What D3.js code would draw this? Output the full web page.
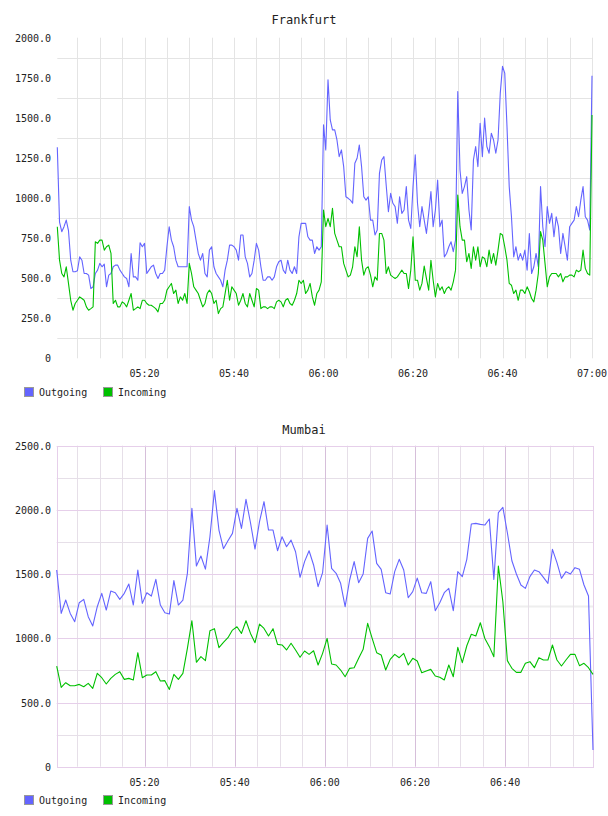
<!DOCTYPE html>
<html>
<head>
<meta charset="utf-8">
<script src="https://cdn.jsdelivr.net/npm/d3@7"></script>
<style>
  body { margin: 0; background: #fff; }
  svg text { font-family: "DejaVu Sans Mono", monospace; fill: #222; }
</style>
</head>
<body>
<svg id="chart" width="608" height="816"></svg>
<script>
// both series start at 05:00:30; Frankfurt is sampled every 30 s, Mumbai every minute
const seriesStart = new Date(2000, 0, 1, 5, 0, 30);
const frankfurtStepMs = 30 * 1000;
const mumbaiStepMs = 60 * 1000;

const seriesNames = ['Outgoing', 'Incoming'];
const seriesColors = ['#6464ff', '#00c000'];

const frankfurtOut = [
  1317, 850, 790, 821, 862, 796, 612, 540, 540, 546,
  633, 612, 529, 529, 519, 435, 446, 529, 550, 592,
  571, 587, 446, 519, 529, 571, 581, 581, 550, 529,
  508, 498, 446, 654, 508, 508, 487, 721, 696, 717,
  529, 550, 571, 581, 529, 498, 529, 529, 550, 696,
  821, 737, 696, 612, 571, 571, 571, 571, 571, 946,
  862, 821, 737, 654, 612, 654, 529, 508, 675, 696,
  571, 529, 508, 487, 446, 550, 612, 706, 706, 696,
  675, 612, 769, 769, 633, 592, 508, 529, 612, 717,
  675, 571, 487, 487, 508, 508, 487, 508, 571, 602,
  612, 550, 529, 612, 550, 529, 571, 529, 758, 842,
  842, 842, 758, 737, 737, 654, 696, 675, 696, 1456,
  1300, 1737, 1487, 1425, 1425, 1362, 1258, 1300, 1196, 1008,
  998, 987, 967, 1217, 1248, 1331, 1196, 1008, 987, 1008,
  862, 862, 769, 800, 1154, 1237, 1258, 1081, 914, 1029,
  967, 946, 842, 1008, 904, 925, 1071, 862, 810, 1071,
  1269, 967, 821, 946, 862, 779, 904, 1040, 821, 925,
  1112, 821, 862, 633, 654, 696, 727, 665, 737, 1664,
  1175, 1029, 1071, 1133, 925, 800, 1237, 1321, 1196, 1466,
  1258, 1498, 1321, 1279, 1404, 1362, 1279, 1362, 1654, 1821,
  1779, 1446, 1071, 883, 633, 696, 612, 654, 612, 675,
  550, 779, 529, 571, 654, 571, 1071, 821, 696, 946,
  842, 904, 758, 883, 821, 654, 779, 696, 612, 821,
  842, 862, 946, 883, 987, 1071, 883, 862, 800, 1763
];
const frankfurtIn = [
  821, 612, 529, 508, 571, 467, 362, 300, 342, 362,
  383, 373, 362, 321, 300, 310, 321, 727, 717, 737,
  737, 675, 696, 706, 654, 342, 362, 321, 321, 352,
  342, 321, 362, 404, 300, 310, 321, 310, 362, 362,
  342, 331, 331, 321, 310, 290, 342, 342, 362, 425,
  446, 467, 404, 425, 342, 383, 362, 404, 342, 592,
  529, 446, 425, 404, 362, 321, 342, 404, 425, 404,
  342, 362, 279, 310, 321, 404, 487, 362, 446, 425,
  404, 331, 362, 404, 342, 321, 404, 362, 321, 435,
  425, 310, 321, 321, 310, 321, 321, 310, 352, 362,
  352, 321, 362, 373, 342, 331, 362, 404, 487, 467,
  487, 404, 425, 467, 383, 331, 404, 425, 477, 925,
  821, 873, 821, 935, 779, 737, 696, 696, 592, 550,
  508, 519, 571, 696, 633, 821, 612, 519, 561, 571,
  519, 446, 508, 487, 779, 779, 737, 529, 571, 519,
  508, 498, 508, 529, 550, 529, 529, 435, 550, 758,
  487, 487, 425, 467, 575, 498, 425, 612, 487, 383,
  467, 425, 446, 404, 435, 446, 425, 477, 550, 1019,
  821, 737, 737, 602, 654, 561, 696, 612, 696, 571,
  633, 623, 571, 675, 592, 654, 581, 675, 779, 769,
  696, 612, 467, 456, 404, 425, 362, 425, 425, 404,
  446, 415, 373, 352, 425, 529, 790, 737, 592, 446,
  508, 529, 529, 529, 508, 529, 477, 508, 508, 519,
  519, 508, 550, 540, 550, 675, 561, 529, 519, 1518
];

const mumbaiOut = [
  1532, 1194, 1298, 1194, 1129, 1277, 1303, 1168, 1096, 1246,
  1350, 1220, 1368, 1355, 1303, 1350, 1423, 1259, 1532, 1272,
  1355, 1329, 1459, 1259, 1199, 1189, 1449, 1259, 1298, 1506,
  2012, 1563, 1641, 1539, 1791, 2150, 1843, 1698, 1760, 1817,
  2012, 1856, 2082, 1900, 1695, 1908, 2064, 1843, 1843, 1682,
  1791, 1713, 1765, 1674, 1475, 1597, 1682, 1571, 1402, 1511,
  1882, 1545, 1506, 1428, 1246, 1454, 1597, 1433, 1501, 1778,
  1835, 1584, 1537, 1355, 1345, 1519, 1615, 1532, 1316, 1363,
  1469, 1355, 1350, 1441, 1215, 1277, 1355, 1389, 1215, 1519,
  1480, 1615, 1890, 1895, 1887, 1882, 1929, 1459, 1978, 2020,
  1822, 1604, 1501, 1415, 1389, 1480, 1532, 1519, 1475, 1428,
  1693, 1589, 1467, 1519, 1501, 1550, 1537, 1415, 1329, 130
];
const mumbaiIn = [
  784, 618, 654, 631, 631, 641, 623, 649, 610, 727,
  693, 644, 688, 719, 740, 680, 688, 675, 888, 693,
  714, 714, 740, 667, 670, 602, 719, 680, 727, 922,
  1137, 813, 857, 826, 1059, 1075, 927, 968, 1005, 1064,
  1090, 1038, 1137, 1038, 966, 1111, 1077, 1018, 1075, 953,
  948, 909, 961, 909, 852, 901, 875, 903, 792, 883,
  999, 800, 792, 753, 701, 766, 771, 844, 914, 1116,
  999, 888, 870, 753, 836, 875, 849, 883, 792, 844,
  823, 732, 745, 758, 706, 696, 675, 792, 701, 929,
  810, 942, 1031, 1018, 1121, 999, 935, 857, 1563, 1285,
  826, 766, 735, 735, 805, 818, 771, 849, 831, 831,
  948, 831, 784, 831, 875, 875, 787, 805, 771, 719
];

const frankfurtTicks = [0, 250, 500, 750, 1000, 1250, 1500, 1750, 2000];
const mumbaiTicks = [0, 500, 1000, 1500, 2000, 2500];

const svg = d3.select('#chart');
const fmtTick = d => d === 0 ? '0' : d3.format('.1f')(d);

const drawChart = (cfg) => {
  const g = svg.append('g');

  const x = d3.scaleTime()
    .domain([seriesStart, cfg.end])
    .range([cfg.left, cfg.right]);
  const y = d3.scaleLinear()
    .domain([0, d3.max(cfg.ticks)])
    .range([cfg.bottom, cfg.top]);

  const step = cfg.ticks[1] - cfg.ticks[0];
  const fives = d3.timeMinute.every(5).range(seriesStart, cfg.end);
  const twenties = x.ticks(d3.timeMinute.every(20));
  const minors = cfg.ticks.slice(1).map(t => t - step / 2);
  const px = v => Math.round(v) + 0.5;

  if (cfg.purple) {
    // minor lines between labelled values, major lines on them
    g.selectAll('.hminor').data(minors).enter().append('line')
      .attr('x1', cfg.left).attr('x2', cfg.right)
      .attr('y1', d => px(y(d))).attr('y2', d => px(y(d)))
      .attr('stroke', d => d === 1250 ? '#eeeeee' : '#e6dfe8')
      .attr('stroke-width', d => d === 1250 ? 2 : 1);
    g.selectAll('.vminor').data(fives.filter(d => d.getMinutes() % 20 !== 0)).enter().append('line')
      .attr('x1', d => px(x(d))).attr('x2', d => px(x(d)))
      .attr('y1', cfg.top).attr('y2', cfg.bottom)
      .attr('stroke', '#e6dfe8');
    g.selectAll('.hmajor').data(cfg.ticks.slice(1)).enter().append('line')
      .attr('x1', cfg.left).attr('x2', cfg.right)
      .attr('y1', d => px(y(d))).attr('y2', d => px(y(d)))
      .attr('stroke', '#e6cfea');
    g.selectAll('.vmajor').data(twenties).enter().append('line')
      .attr('x1', d => px(x(d))).attr('x2', d => px(x(d)))
      .attr('y1', cfg.top).attr('y2', cfg.bottom)
      .attr('stroke', '#d6bfda');
    g.append('rect')
      .attr('x', px(cfg.left)).attr('y', px(cfg.top))
      .attr('width', Math.round(cfg.right - cfg.left)).attr('height', Math.round(cfg.bottom - cfg.top))
      .attr('fill', 'none').attr('stroke', '#e6cfea');
  } else {
    // grey grid sits half a step below each label
    g.selectAll('.hgrid').data(minors).enter().append('line')
      .attr('x1', cfg.left).attr('x2', cfg.right)
      .attr('y1', d => px(y(d))).attr('y2', d => px(y(d)))
      .attr('stroke', '#e4e4e4');
    g.selectAll('.vgrid').data(fives.concat([cfg.end])).enter().append('line')
      .attr('x1', d => px(x(d))).attr('x2', d => px(x(d)))
      .attr('y1', cfg.top).attr('y2', cfg.bottom)
      .attr('stroke', '#e4e4e4');
  }

  g.append('text')
    .attr('x', 304).attr('y', cfg.titleY)
    .attr('text-anchor', 'middle')
    .attr('font-size', 12)
    .text(cfg.title);

  g.selectAll('.ylab').data(cfg.ticks).enter().append('text')
    .attr('x', 51).attr('y', d => y(d) + 4)
    .attr('text-anchor', 'end')
    .attr('font-size', 10)
    .text(fmtTick);

  g.selectAll('.xlab').data(twenties).enter().append('text')
    .attr('x', d => x(d)).attr('y', cfg.bottom + 19)
    .attr('text-anchor', 'middle')
    .attr('font-size', 10)
    .text(d3.timeFormat('%H:%M'));

  const line = d3.line()
    .x((d, i) => x(new Date(seriesStart.getTime() + i * cfg.stepMs)))
    .y(d => y(d));

  [cfg.out, cfg.inc].forEach((vals, k) => {
    g.append('path')
      .datum(vals)
      .attr('fill', 'none')
      .attr('stroke', seriesColors[k])
      .attr('stroke-width', 1.1)
      .attr('stroke-linejoin', 'round')
      .attr('d', line);
  });

  const legend = g.selectAll('.leg').data(seriesNames).enter().append('g')
    .attr('transform', (d, i) => `translate(${24 + i * 79}, ${cfg.legendY})`);
  legend.append('rect')
    .attr('x', 0.5).attr('y', -4.5).attr('width', 9).attr('height', 9)
    .attr('fill', (d, i) => seriesColors[i])
    .attr('stroke', '#999');
  legend.append('text')
    .attr('x', 15).attr('y', 4)
    .attr('font-size', 10)
    .text(d => d);
};

drawChart({
  title: 'Frankfurt', titleY: 24,
  left: 57.3, right: 592, top: 37.7, bottom: 358.3,
  end: new Date(2000, 0, 1, 7, 0, 0), stepMs: frankfurtStepMs,
  ticks: frankfurtTicks, out: frankfurtOut, inc: frankfurtIn,
  legendY: 392, purple: false
});

drawChart({
  title: 'Mumbai', titleY: 434,
  left: 56.7, right: 593, top: 445.7, bottom: 766.7,
  end: new Date(2000, 0, 1, 6, 59, 30), stepMs: mumbaiStepMs,
  ticks: mumbaiTicks, out: mumbaiOut, inc: mumbaiIn,
  legendY: 800, purple: true
});
</script>
</body>
</html>
